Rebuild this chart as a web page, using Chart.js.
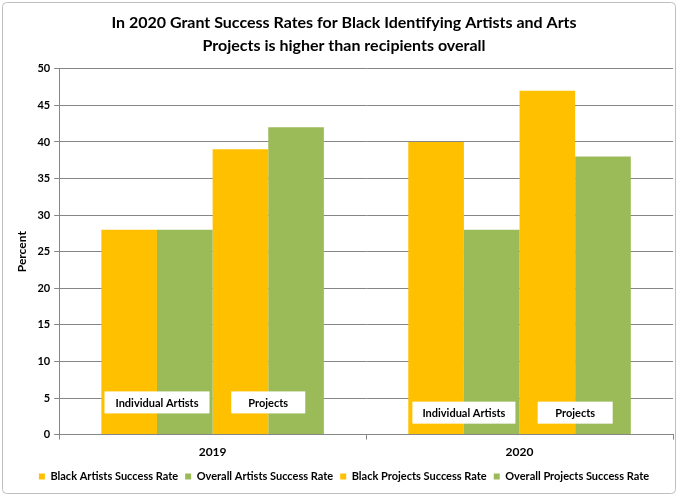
<!DOCTYPE html>
<html>
<head>
<meta charset="utf-8">
<script src="https://cdn.jsdelivr.net/npm/chart.js@4.4.1/dist/chart.umd.min.js"></script>
<style>
  html, body { margin: 0; padding: 0; background: #fff; }
  #wrap { width: 678px; height: 496px; position: relative; }
</style>
</head>
<body>
<div id="wrap"><canvas id="chart"></canvas></div>
<script>
// Chart data
const years = ['2019', '2020'];
const blackArtists = [28, 40];
const overallArtists = [28, 28];
const blackProjects = [39, 47];
const overallProjects = [42, 38];
const seriesNames = [
    'Black Artists Success Rate',
    'Overall Artists Success Rate',
    'Black Projects Success Rate',
    'Overall Projects Success Rate'
];
const boxTexts = ['Individual Artists', 'Projects'];

const YELLOW = '#FFC000';
const GREEN = '#9BBB59';
const AXIS = '#868686';
const FONT = 'Lato, "Open Sans", sans-serif';

/**
 * White page with the thin rounded frame round the whole chart
 */
const framePlugin = {
    id: 'frame',
    beforeDraw(chart) {
        const c = chart.ctx;
        c.save();
        c.fillStyle = '#fff';
        c.fillRect(0, 0, chart.width, chart.height);
        c.strokeStyle = '#BFBFBF';
        c.lineWidth = 1;
        c.beginPath();
        c.roundRect(2.5, 2.5, chart.width - 5, chart.height - 5, 4);
        c.stroke();
        c.restore();
    }
};

/**
 * White text boxes sitting over each pair of bars
 */
const boxLabelPlugin = {
    id: 'boxLabels',
    afterDatasetsDraw(chart, args, opts) {
        const c = chart.ctx;
        const y = chart.scales.y;
        c.save();
        c.font = 'bold 11px ' + FONT;
        c.textAlign = 'center';
        c.textBaseline = 'middle';
        opts.items.forEach(item => {
            // centre between the two bars of the pair
            const left = chart.getDatasetMeta(item.pair * 2).data[item.group];
            const right = chart.getDatasetMeta(item.pair * 2 + 1).data[item.group];
            const cx = (left.x + right.x) / 2;
            const cy = y.getPixelForValue(item.value);
            const w = item.width, h = 22;
            c.fillStyle = '#fff';
            c.fillRect(cx - w / 2, cy - h / 2, w, h);
            c.fillStyle = '#000';
            c.fillText(boxTexts[item.pair], cx, cy + 1);
        });
        c.restore();
    }
};

const ctx = document.getElementById('chart').getContext('2d');
const seriesData = [blackArtists, overallArtists, blackProjects, overallProjects];
const seriesColors = [YELLOW, GREEN, YELLOW, GREEN];

new Chart(ctx, {
    type: 'bar',
    data: {
        labels: years,
        datasets: seriesData.map((d, i) => ({
            label: seriesNames[i],
            data: d,
            backgroundColor: seriesColors[i],
            borderWidth: 0,
            barPercentage: 1,
            categoryPercentage: 0.725
        }))
    },
    options: {
        responsive: true,
        maintainAspectRatio: false,
        animation: false,
        layout: {
            padding: { left: 15, right: 5, top: 4, bottom: 4 }
        },
        scales: {
            x: {
                grid: {
                    drawOnChartArea: false,
                    tickLength: 5,
                    color: AXIS
                },
                border: { color: AXIS },
                ticks: {
                    color: '#000',
                    font: { family: FONT, size: 12, weight: 'bold' },
                    padding: 5
                }
            },
            y: {
                min: 0,
                max: 50,
                ticks: {
                    stepSize: 5,
                    color: '#000',
                    font: { family: FONT, size: 11, weight: 'bold' },
                    padding: 4
                },
                grid: {
                    color: AXIS,
                    tickLength: 5
                },
                border: { color: AXIS },
                title: {
                    display: true,
                    text: 'Percent',
                    color: '#000',
                    font: { family: FONT, size: 12, weight: 'bold' },
                    padding: { top: 0, bottom: 4 }
                }
            }
        },
        plugins: {
            title: {
                display: true,
                text: [
                    'In 2020 Grant Success Rates for Black Identifying Artists and Arts',
                    'Projects is higher than recipients overall'
                ],
                color: '#000',
                font: { family: FONT, size: 16, weight: 'bold', lineHeight: 1.4 },
                padding: { top: 8, bottom: 12 }
            },
            legend: {
                position: 'bottom',
                labels: {
                    color: '#000',
                    boxWidth: 6,
                    boxHeight: 6,
                    padding: 7,
                    font: { family: FONT, size: 11, weight: 'bold' }
                }
            },
            tooltip: { enabled: false },
            boxLabels: {
                items: [
                    { group: 0, pair: 0, value: 4.4, width: 105 },
                    { group: 0, pair: 1, value: 4.4, width: 74 },
                    { group: 1, pair: 0, value: 3.0, width: 103 },
                    { group: 1, pair: 1, value: 3.0, width: 75 }
                ]
            }
        }
    },
    plugins: [framePlugin, boxLabelPlugin]
});
</script>
</body>
</html>
